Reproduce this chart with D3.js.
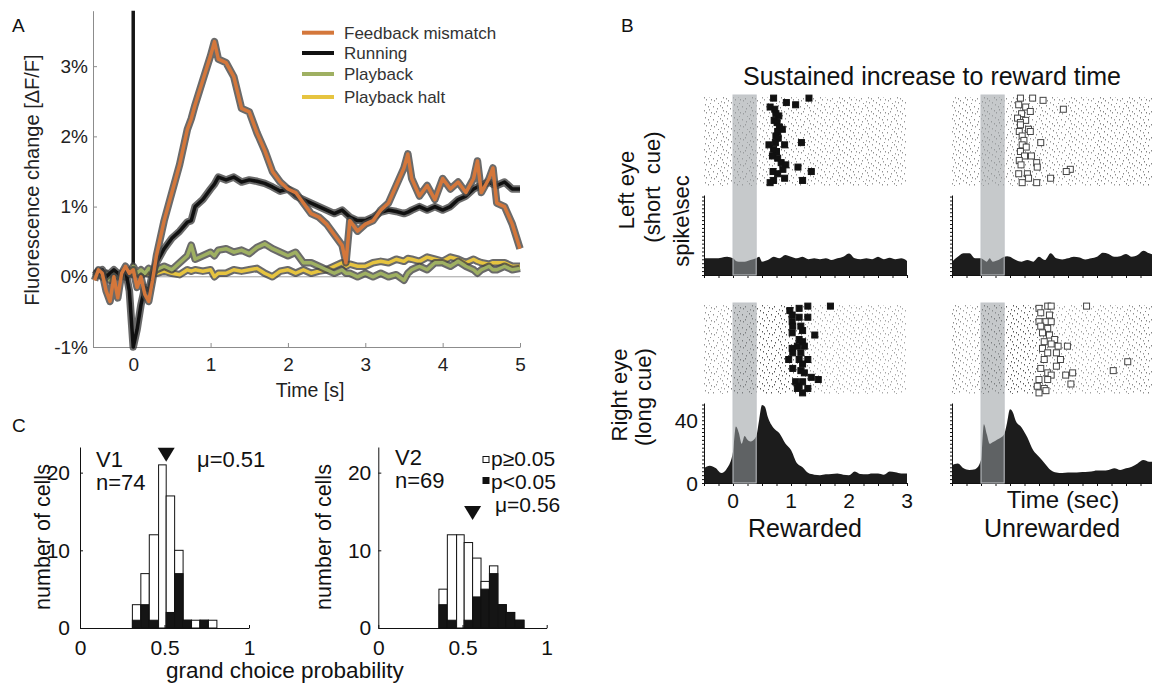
<!DOCTYPE html>
<html>
<head>
<meta charset="utf-8">
<script src="https://cdn.jsdelivr.net/npm/d3@7"></script>
<style>
  body { margin: 0; background: #fff; }
  svg { display: block; }
</style>
</head>
<body>
<svg width="1152" height="692"></svg>
<script>
var FONT = "Liberation Sans, Arial, Helvetica, sans-serif";

// ---------- panel A : fluorescence traces ----------
var timeA = [-0.5,-0.45,-0.4,-0.35,-0.3,-0.25,-0.2,-0.15,-0.1,-0.05,0,0.05,0.1,0.15,0.2,0.25,0.3,0.4,0.5,0.6,0.7,0.75,0.8,0.9,1.0,1.05,
  1.1,1.2,1.3,1.4,1.5,1.6,1.7,1.8,1.9,2.0,2.1,2.2,2.3,2.4,2.5,2.6,2.7,2.75,2.8,2.9,3.0,3.1,3.2,3.3,3.4,3.5,3.55,
  3.6,3.7,3.8,3.9,4.0,4.1,4.2,4.3,4.4,4.45,4.5,4.6,4.65,4.7,4.8,4.9,5.0];
var feedbackMismatch = [-0.05,0.1,0.05,-0.2,-0.35,0.0,-0.3,0.05,0.15,0.05,0.1,-0.15,0.0,-0.25,-0.35,-0.05,0.3,0.8,1.2,1.6,2.1,2.25,2.45,2.8,3.15,3.35,
  3.1,3.05,2.85,2.4,2.35,2.05,1.8,1.5,1.35,1.25,1.2,1.05,0.9,0.85,0.75,0.6,0.45,0.2,0.8,0.65,0.75,0.8,0.95,1.05,1.3,1.55,1.75,
  1.4,1.15,1.3,1.1,1.4,1.25,1.35,1.2,1.4,1.65,1.2,1.4,1.55,1.05,1.0,0.75,0.4];
var running = [0.1,0.05,0.1,0.0,0.05,0.1,0.05,0.0,0.1,-0.2,-1.0,-0.75,-0.4,-0.15,-0.2,0.05,0.2,0.4,0.55,0.65,0.78,0.8,1.0,1.1,1.25,1.32,
  1.42,1.38,1.42,1.35,1.38,1.36,1.33,1.28,1.22,1.25,1.15,1.1,1.05,1.0,0.95,0.9,0.95,0.9,0.85,0.8,0.8,0.85,0.92,0.95,0.93,0.9,0.92,
  0.95,1.0,0.95,1.0,0.95,1.0,1.1,1.15,1.25,1.28,1.3,1.35,1.32,1.3,1.35,1.25,1.25];
var playback = [0.0,0.05,0.0,0.05,-0.05,0.05,0.0,0.05,0.0,0.05,0.15,0.05,0.1,0.05,0.12,0.05,0.1,0.15,0.1,0.2,0.3,0.45,0.25,0.3,0.35,0.3,
  0.38,0.4,0.35,0.38,0.33,0.42,0.47,0.4,0.35,0.3,0.35,0.2,0.2,0.15,0.1,0.05,0.1,0.05,0.05,0.0,0.05,0.0,0.05,0.0,0.03,-0.05,0.05,
  0.1,0.15,0.1,0.2,0.2,0.15,0.22,0.15,0.1,0.05,0.1,0.15,0.1,0.1,0.15,0.1,0.12];
var playbackHalt = [0.02,0.05,0.0,0.04,0.02,0.05,0.02,0.04,0.0,0.05,0.03,0.05,0.02,0.05,0.04,0.06,0.05,0.08,0.05,0.03,0.1,0.08,0.1,0.08,0.1,0.0,
  0.05,0.05,0.1,0.08,0.1,0.12,0.05,0.0,0.08,0.1,0.05,0.1,0.05,0.08,0.1,0.15,0.2,0.15,0.18,0.15,0.15,0.2,0.22,0.2,0.25,0.22,0.26,
  0.25,0.22,0.28,0.25,0.22,0.28,0.25,0.2,0.25,0.22,0.2,0.18,0.2,0.2,0.2,0.15,0.15];
var legendA = ["Feedback mismatch", "Running", "Playback", "Playback halt"];
var colorsA = ["#d4773b", "#111111", "#9fb062", "#e6c440"];
var ticksAX = [0, 1, 2, 3, 4, 5];
var ticksAY = [-1, 0, 1, 2, 3];

// ---------- panel B : rasters + PSTHs ----------
var psthT = [-0.5,-0.4,-0.3,-0.2,-0.1,0,0.05,0.1,0.15,0.2,0.25,0.3,0.4,0.45,0.5,0.55,0.6,0.7,0.8,0.9,1.0,
  1.1,1.2,1.3,1.4,1.5,1.6,1.7,1.8,1.9,2.0,2.1,2.2,2.3,2.4,2.5,2.6,2.7,2.8,2.9,3.0];
var psthShortRew = [10.6,10.6,10.6,11,11.6,10.6,9,8.5,8.5,8.5,9,9.5,10.6,11.6,8.5,9,9.5,11.6,10.6,12.7,11.6,
  10.6,11.6,10,10.6,10,10.6,9.5,10.6,11.6,13.7,10.6,10,10.6,10,11.6,10,11,10,10.6,9];
var psthShortUnrew = [8.5,11.6,13.8,13.8,10.6,10.6,9.5,8.5,10.6,8.5,9,9.5,11.6,12,11.6,10.5,9.5,8.5,9.5,8.5,11.6,
  9.5,13.8,10.6,9.9,10.6,11.6,11.2,9.9,10.6,11.6,14.2,13.4,11.6,12,13.4,11.6,12.7,15.5,13.8,12.7];
var psthLongRew = [9.5,11,9.5,6.3,9.5,20,36,32,25,30,27.5,26.4,29.6,40,49.7,48.6,42,35,31.7,25.4,21,
  12.7,10,6.3,5.3,5,5.5,5.7,6,5.3,5,7.4,5.7,5.5,6,6,5.3,7.4,6.8,6,6];
var psthLongUnrew = [11.5,12.5,9.4,8.3,8.8,14.6,37.5,31,25,26,27,28,31,38.5,47,45,39.6,35.4,29,20.8,16.7,
  12.5,8.3,6.7,6.3,6.7,6.7,6.9,7,7.3,7.9,7.9,8.3,9.4,8.3,9.4,10.4,12.5,14.6,13.5,13.5];
// reward times [time (s), trial]
var rewShortRew = [[0.70,1],[0.92,3],[1.08,4],[1.31,1],[0.64,5],[0.72,6],[0.74,8],[0.79,9],[0.71,11],[0.76,12],[0.80,14],
  [0.85,15],[0.77,16],[0.74,18],[0.78,19],[0.73,21],[1.18,21],[0.62,22],[0.89,22],[0.70,24],[0.75,25],[0.68,27],[0.77,28],
  [0.83,30],[0.91,31],[1.12,32],[0.86,33],[0.69,34],[1.35,34],[0.77,35],[0.89,37],[1.20,38],[0.70,38],[0.64,39]];
var rewShortUnrew = [[0.68,1],[0.89,1],[1.07,2],[0.65,4],[0.77,5],[1.42,6],[0.85,7],[0.70,8],[0.63,10],[0.77,11],[0.68,12],
  [0.68,13],[0.82,15],[0.85,16],[0.66,16],[0.71,18],[0.74,20],[1.03,21],[0.71,22],[0.78,23],[0.68,25],[0.75,27],[0.87,27],
  [0.66,29],[0.96,30],[0.69,31],[0.97,32],[1.54,33],[1.47,34],[0.80,35],[0.65,35],[1.20,37],[0.82,37],[0.71,39],[0.96,39]];
var rewLongRew = [[1.29,1],[1.68,1],[1.14,2],[0.98,3],[1.02,5],[1.14,6],[1.29,6],[1.02,8],[1.03,10],[1.17,10],[1.20,12],
  [1.02,13],[1.41,14],[1.14,16],[1.20,17],[1.11,19],[1.23,19],[1.02,20],[1.03,22],[1.17,22],[0.96,25],[1.14,25],[1.29,25],
  [1.20,27],[1.03,29],[1.17,30],[1.23,31],[1.35,33],[1.47,34],[1.08,35],[1.20,35],[1.14,37],[1.29,38],[1.11,38],[1.20,40]];
var rewLongUnrew = [[1.15,1],[1.21,1],[1.82,1],[1.00,2],[1.03,4],[1.18,5],[1.00,8],[1.12,8],[1.21,8],[1.03,10],[1.15,11],
  [1.06,13],[1.18,14],[1.27,16],[1.09,17],[1.21,18],[1.49,19],[1.33,19],[1.06,20],[1.15,22],[1.30,22],[1.37,25],[1.09,25],
  [2.53,26],[1.30,28],[1.03,29],[2.28,30],[1.15,31],[1.58,31],[1.21,32],[1.46,32],[1.00,34],[1.15,34],[1.55,36],[0.97,37],
  [1.09,38],[1.12,39],[1.00,40]];
var nTrials = 40;
var cueWindow = [0, 0.4];
var ticksBX = [0, 1, 2, 3];
var ticksBY = [0, 40];

// ---------- panel C : choice probability histograms ----------
var binEdges = [0.31,0.36,0.41,0.465,0.51,0.56,0.61,0.66,0.71,0.76,0.81,0.865];
var v1Total = [3,7,12,21,17,10,1,1,1,1,0];
var v1Sig   = [1,3,1,0,2,7,1,0,1,0,0];
var v2Total = [0,5,12,12,11,9,6,8,3,2,1];
var v2Sig   = [0,3,1,0,1,4,5,7,3,2,1];
var areaNames = ["V1", "V2"];
var cellCounts = [74, 69];
var meanCP = [0.51, 0.56];
var markerTip = [21.4, 13.9];
var ticksCX = [0, 0.5, 1];
var ticksCY = [0, 10, 20];

var svg = d3.select("svg");
svg.append("rect").attr("width", 1152).attr("height", 692).attr("fill", "#fff");

function txt(g, x, y, s, size, anchor) {
  return g.append("text").attr("x", x).attr("y", y).text(s)
    .attr("font-family", FONT).attr("font-size", size).attr("fill", "#111")
    .attr("text-anchor", anchor || "start");
}

// panel letters
txt(svg, 12, 32, "A", 19);
txt(svg, 621, 32, "B", 19);
txt(svg, 12, 432, "C", 19);

// ================= A =================
(function(){
  var g = svg.append("g");
  var x = d3.scaleLinear().domain([-0.52, 5]).range([93, 520]);
  var y = d3.scaleLinear().domain([-1, 3.79]).range([347, 10.7]);

  g.append("line").attr("x1", x(-0.52)).attr("x2", x(5)).attr("y1", y(0)).attr("y2", y(0))
    .attr("stroke", "#a0a0a0").attr("stroke-width", 1);

  var ax = g.append("g").attr("transform", "translate(0," + y(-1) + ")")
    .call(d3.axisBottom(x).tickValues(ticksAX).tickSize(-4).tickSizeOuter(0).tickPadding(11)
      .tickFormat(function(d){ return String(d); }));
  var ay = g.append("g").attr("transform", "translate(" + x(-0.52) + ",0)")
    .call(d3.axisLeft(y).tickValues(ticksAY).tickSize(-4).tickSizeOuter(0).tickPadding(5)
      .tickFormat(function(d){ return d + "%"; }));
  [ax, ay].forEach(function(a){
    a.selectAll("path,line").attr("stroke", "#8c8c8c");
    a.selectAll("text").attr("font-size", 19).attr("fill", "#222").attr("font-family", FONT);
  });

  // stimulus onset
  g.append("line").attr("x1", x(0)).attr("x2", x(0)).attr("y1", y(3.79)).attr("y2", y(0.1))
    .attr("stroke", "#151515").attr("stroke-width", 3.5);

  var line = d3.line().x(function(d, i){ return x(timeA[i]); }).y(function(d){ return y(d); });
  var series = [
    {v: playbackHalt, c: colorsA[3]},
    {v: playback, c: colorsA[2]},
    {v: running, c: colorsA[1]},
    {v: feedbackMismatch, c: colorsA[0]}
  ];
  series.forEach(function(s){
    g.append("path").attr("d", line(s.v)).attr("fill", "none")
      .attr("stroke", "#454545").attr("stroke-width", 7.5).attr("stroke-opacity", 0.8)
      .attr("stroke-linejoin", "round");
    g.append("path").attr("d", line(s.v)).attr("fill", "none")
      .attr("stroke", s.c).attr("stroke-width", 3.5).attr("stroke-linejoin", "round");
  });

  // legend
  var ly = [32.7, 53, 74, 97];
  legendA.forEach(function(n, i){
    g.append("line").attr("x1", 302).attr("x2", 334).attr("y1", ly[i]).attr("y2", ly[i])
      .attr("stroke", colorsA[i]).attr("stroke-width", 4);
    txt(g, 344, ly[i] + 6, n, 17).attr("fill", "#333");
  });

  txt(g, 310, 397, "Time [s]", 19.5, "middle").attr("fill", "#222");
  txt(g, 0, 0, "Fluorescence change [\u0394F/F]", 20, "middle").attr("fill", "#222")
    .attr("transform", "translate(39,180) rotate(-90)");
})();

// ================= B =================
(function(){
  var defs = svg.append("defs");
  var pat = defs.append("pattern").attr("id", "spk").attr("patternUnits", "userSpaceOnUse")
    .attr("width", 29).attr("height", 13);
  [[2,1],[9,0],[17,2],[24,1],[5,4],[13,5],[21,4],[27,6],[1,7],[10,8],[18,9],[25,10],[6,11],[14,12],
   [22,12],[3,9],[12,2],[20,7],[28,11],[15,8],[8,6],[26,3]].forEach(function(p){
    pat.append("rect").attr("x", p[0]).attr("y", p[1]).attr("width", 1).attr("height", 1.5).attr("fill", "#5a5a5a");
  });

  var g = svg.append("g");
  txt(g, 932, 85, "Sustained increase to reward time", 25, "middle");

  var rows = [{rTop: 97, rBot: 186, pTop: 195, pBot: 275}, {rTop: 305, rBot: 394, pTop: 403, pBot: 483}];
  var cols = [0, 248];
  var panels = [
    {c: 0, r: 0, rate: psthShortRew, sq: rewShortRew, filled: true},
    {c: 1, r: 0, rate: psthShortUnrew, sq: rewShortUnrew, filled: false},
    {c: 0, r: 1, rate: psthLongRew, sq: rewLongRew, filled: true},
    {c: 1, r: 1, rate: psthLongUnrew, sq: rewLongUnrew, filled: false}
  ];

  panels.forEach(function(p){
    var R = rows[p.r], dx = cols[p.c];
    var x = d3.scaleLinear().domain([-0.5, 3]).range([704 + dx, 907 + dx]);
    var yTrial = d3.scaleLinear().domain([0.5, nTrials + 0.5]).range([R.rTop, R.rBot]);
    var yRate = d3.scaleLinear().domain([0, 51]).range([R.pBot, R.pTop]);
    var pg = g.append("g");

    // raster background, density follows the rate
    for (var i = 0; i < psthT.length - 1; i++) {
      var m = (p.rate[i] + p.rate[i + 1]) / 2;
      pg.append("rect").attr("x", x(psthT[i])).attr("y", R.rTop)
        .attr("width", x(psthT[i + 1]) - x(psthT[i])).attr("height", R.rBot - R.rTop)
        .attr("fill", "url(#spk)").attr("opacity", Math.min(1, 0.35 + m / 35));
    }

    // reward markers
    pg.selectAll("rect.sq").data(p.sq).enter().append("rect").attr("class", "sq")
      .attr("x", function(d){ return x(d[0]) - 3; }).attr("y", function(d){ return yTrial(d[1]) - 3; })
      .attr("width", 6).attr("height", 6)
      .attr("fill", p.filled ? "#111" : "#fff")
      .attr("stroke", p.filled ? "#111" : "#444").attr("stroke-width", 1);

    // PSTH
    var area = d3.area().x(function(d, i){ return x(psthT[i]); })
      .y0(R.pBot).y1(function(d){ return yRate(d); }).curve(d3.curveMonotoneX);
    pg.append("path").attr("d", area(p.rate)).attr("fill", "#1c1c1c");

    var axL = pg.append("g").attr("transform", "translate(" + x(-0.5) + ",0)")
      .call(d3.axisLeft(yRate).tickValues(d3.range(0, 51, 2.5)).tickSize(2).tickSizeOuter(0).tickFormat(function(){ return ""; }));
    var axB = pg.append("g").attr("transform", "translate(0," + R.pBot + ")")
      .call(d3.axisBottom(x).tickValues(d3.range(-0.5, 3.01, 0.25)).tickSize(3).tickSizeOuter(0).tickFormat(function(){ return ""; }));
    [axL, axB].forEach(function(a){ a.selectAll("path,line").attr("stroke", "#111"); });

    if (p.c === 0 && p.r === 1) {
      ticksBX.forEach(function(t){ txt(pg, x(t), 508, String(t), 21, "middle"); });
      ticksBY.forEach(function(t){ txt(pg, x(-0.5) - 6, yRate(t) + 7.5, String(t), 21, "end"); });
    }

    // cue window
    pg.append("rect").attr("x", x(cueWindow[0])).attr("y", R.rTop - 2)
      .attr("width", x(cueWindow[1]) - x(cueWindow[0])).attr("height", R.pBot - R.rTop + 2)
      .attr("fill", "rgb(152,156,161)").attr("fill-opacity", 0.55)
      .attr("stroke", "#c2c5c9").attr("stroke-width", 1);
  });

  txt(g, 805, 537, "Rewarded", 25, "middle");
  txt(g, 1063, 508, "Time (sec)", 24, "middle");
  txt(g, 1052, 537, "Unrewarded", 25, "middle");

  var side = [[634, 190, "Left eye"], [660, 187, "(short\u00a0 cue)"], [689, 221, "spike\\sec"],
              [627, 395, "Right eye"], [651, 397, "(long cue)"]];
  side.forEach(function(s){
    txt(g, 0, 0, s[2], 22, "middle").attr("transform", "translate(" + s[0] + "," + s[1] + ") rotate(-90)");
  });
})();

// ================= C =================
(function(){
  var g = svg.append("g");
  var hists = [
    {x0: 80, x1: 249, tot: v1Total, sig: v1Sig, pad: 10, lab: 50},
    {x0: 378.3, x1: 546.7, tot: v2Total, sig: v2Sig, pad: 7, lab: 331}
  ];
  var y = d3.scaleLinear().domain([0, 23.3]).range([628, 447]);

  hists.forEach(function(h, k){
    var x = d3.scaleLinear().domain([0, 1]).range([h.x0, h.x1]);
    var hg = g.append("g");
    for (var i = 0; i < h.tot.length; i++) {
      if (h.tot[i] === 0) continue;
      var bx = x(binEdges[i]), bw = x(binEdges[i + 1]) - x(binEdges[i]);
      hg.append("rect").attr("x", bx).attr("y", y(h.tot[i])).attr("width", bw).attr("height", y(0) - y(h.tot[i]))
        .attr("fill", "#fff").attr("stroke", "#111").attr("stroke-width", 1);
      if (h.sig[i] > 0) {
        hg.append("rect").attr("x", bx).attr("y", y(h.sig[i])).attr("width", bw).attr("height", y(0) - y(h.sig[i]))
          .attr("fill", "#151515").attr("stroke", "#111").attr("stroke-width", 1);
      }
    }
    var axB = hg.append("g").attr("transform", "translate(0," + y(0) + ")")
      .call(d3.axisBottom(x).tickValues(ticksCX).tickSize(-3).tickSizeOuter(0).tickPadding(12)
        .tickFormat(function(d){ return String(d); }));
    var axL = hg.append("g").attr("transform", "translate(" + h.x0 + ",0)")
      .call(d3.axisLeft(y).tickValues(ticksCY).tickSize(-3).tickSizeOuter(0).tickPadding(h.pad));
    [axB, axL].forEach(function(a){
      a.selectAll("path,line").attr("stroke", "#111");
      a.selectAll("text").attr("font-size", 21).attr("fill", "#111").attr("font-family", FONT);
    });

    // mean marker
    var mx = x(meanCP[k]), tip = y(markerTip[k]);
    hg.append("path").attr("d", "M" + (mx - 8.5) + "," + (tip - 14) + "L" + (mx + 8.5) + "," + (tip - 14) + "L" + mx + "," + tip + "Z")
      .attr("fill", "#111");

    txt(hg, 0, 0, "number of cells", 21.5, "middle").attr("transform", "translate(" + h.lab + ",537) rotate(-90)");
  });

  txt(g, 96, 467, areaNames[0], 22);
  txt(g, 96, 490, "n=" + cellCounts[0], 22);
  txt(g, 197, 467, "\u03bc=" + meanCP[0].toFixed(2), 22);

  txt(g, 395, 465, areaNames[1], 22);
  txt(g, 395, 488, "n=" + cellCounts[1], 22);
  g.append("rect").attr("x", 483).attr("y", 456.5).attr("width", 6).attr("height", 6).attr("fill", "#fff").attr("stroke", "#111");
  txt(g, 491, 466, "p\u22650.05", 21);
  g.append("rect").attr("x", 483).attr("y", 477.5).attr("width", 6).attr("height", 6).attr("fill", "#111").attr("stroke", "#111");
  txt(g, 491, 488.5, "p<0.05", 21);
  txt(g, 495, 512, "\u03bc=" + meanCP[1].toFixed(2), 21);

  txt(g, 166, 678, "grand choice probability", 22.5);
})();
</script>
</body>
</html>
